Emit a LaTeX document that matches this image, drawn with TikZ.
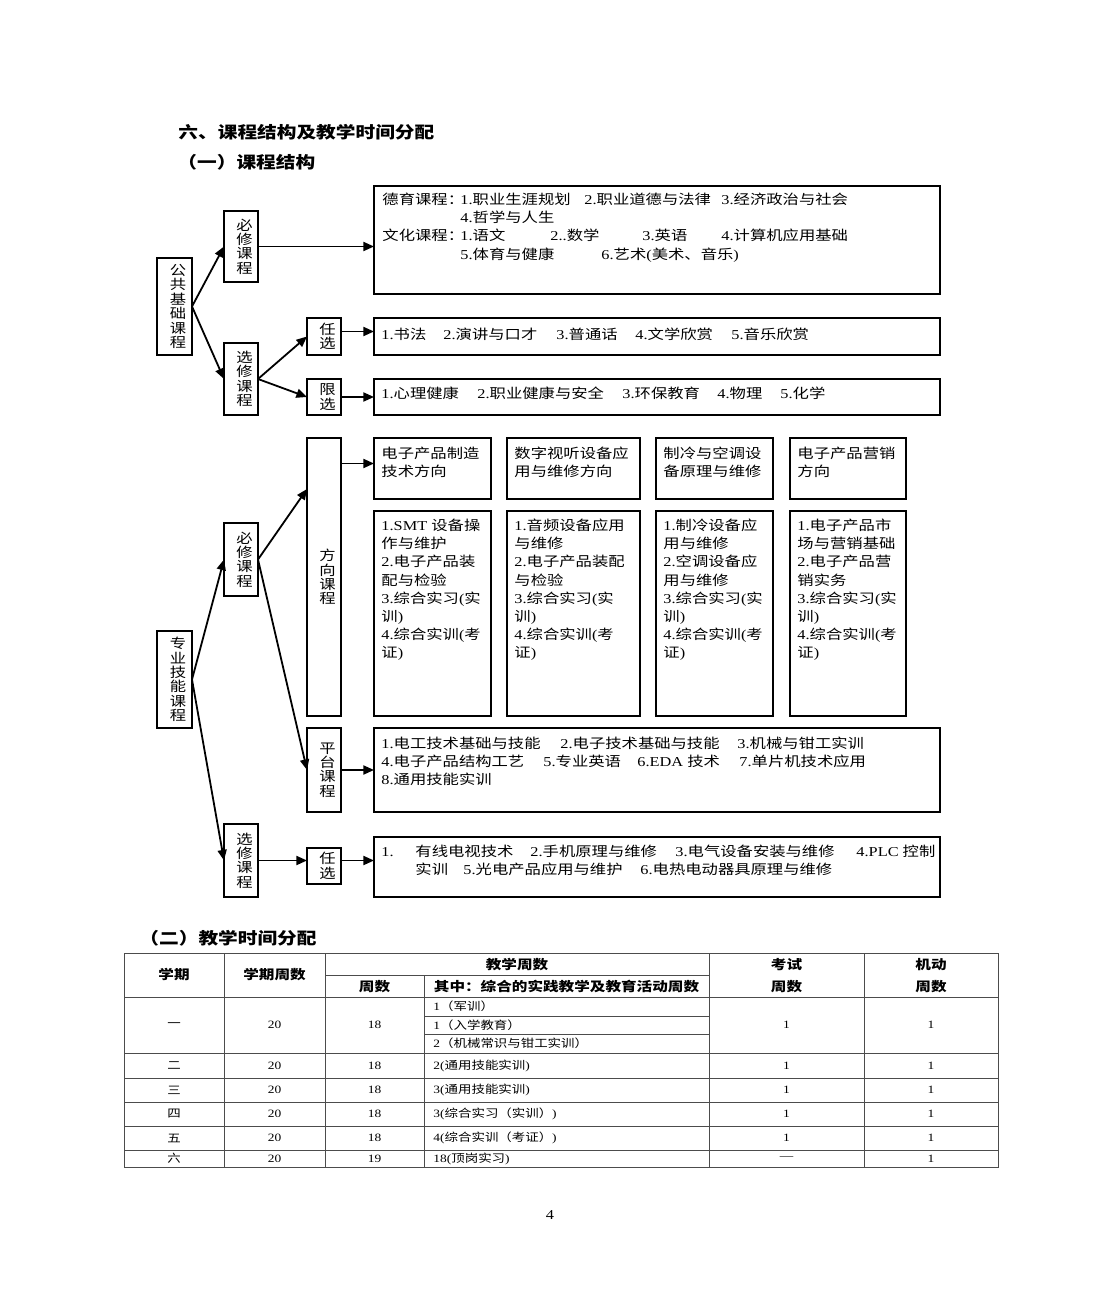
\documentclass[tikz,border=0pt]{standalone}
\usepackage{fontspec}
\setmainfont{Liberation Serif}
\newfontfamily\cjkfont{Noto Sans CJK SC}
\usetikzlibrary{arrows.meta,fit}

\XeTeXinterchartokenstate=1
\newXeTeXintercharclass\cjkclass
\newcount\cjkcode
\cjkcode="2E80
\loop\XeTeXcharclass\cjkcode=\cjkclass
\ifnum\cjkcode<"9FFF \advance\cjkcode by 1 \repeat
\cjkcode="FF00
\loop\XeTeXcharclass\cjkcode=\cjkclass
\ifnum\cjkcode<"FFEF \advance\cjkcode by 1 \repeat
\XeTeXinterchartoks 0 \cjkclass = {\cjkfont}
\XeTeXinterchartoks 4095 \cjkclass = {\cjkfont}
\XeTeXinterchartoks \cjkclass 0 = {\rmfamily}
\XeTeXinterchartoks \cjkclass 4095 = {\rmfamily}

\begin{document}
\begin{tikzpicture}[x=0.5pt, y=-0.5pt,
    frame/.style={draw, line width=0.9pt, inner sep=0pt, outer sep=0pt},
    link/.style={-{Triangle[length=5.3pt,width=4.5pt]}, line width=0.9pt},
    txt/.style={font=\fontsize{6.8pt}{9.1pt}\selectfont, inner sep=0pt, xscale=1.2, anchor=base west},
    vtext/.style={font=\fontsize{6.8pt}{7.2pt}\selectfont, inner sep=0pt, xscale=1.2, align=center, xshift=1.5pt},
    heading/.style={font=\fontsize{8.2pt}{10pt}\selectfont\bfseries, inner sep=0pt, xscale=1.2, anchor=base west},
    rule/.style={line width=0.5pt, draw=black!70},
    th/.style={font=\fontsize{6.5pt}{11pt}\selectfont\bfseries, inner sep=0pt, xscale=1.2, align=center},
    td/.style={font=\fontsize{5.6pt}{7pt}\selectfont, inner sep=0pt, xscale=1.2}
]
\fill[white, use as bounding box] (0,0) rectangle (1100,1300);

\node[heading] (title) at (178,139) {六、课程结构及教学时间分配};
\node[heading] (part1) at (177,169) {（一）课程结构};
\node[heading] (part2) at (139,944) {（二）教学时间分配};

% public foundation courses
\node[frame, fit={(157,258) (192,355)}] (gg) {};
\node[frame, fit={(224,211) (258,282)}] (bx1) {};
\node[frame, fit={(224,343) (258,415)}] (xx1) {};
\node[frame, fit={(307,318) (341,355)}] (rx1) {};
\node[frame, fit={(307,379) (341,415)}] (lx) {};
\node[frame, fit={(374,186) (940,294)}] (deyu) {};
\node[frame, fit={(374,318) (940,355)}] (shufa) {};
\node[frame, fit={(374,379) (940,415)}] (xinli) {};

\node[vtext] (ggt) at (gg) {公\\共\\基\\础\\课\\程};
\node[vtext] (bx1t) at (bx1) {必\\修\\课\\程};
\node[vtext] (xx1t) at (xx1) {选\\修\\课\\程};
\node[vtext] (rx1t) at (rx1) {任\\选};
\node[vtext] (lxt) at (lx) {限\\选};

\foreach \xx/\yy/\entry [count=\i] in {382/205/德育课程：, 460/205/1.职业生涯规划,
    584/205/2.职业道德与法律, 721/205/3.经济政治与社会, 460/223/4.哲学与人生,
    382/241/文化课程：, 460/241/1.语文, 550/241/2..数学, 642/241/3.英语,
    721/241/4.计算机应用基础, 460/259/5.体育与健康, 601/259/6.艺术(美术、音乐)}
  \node[txt] (dy\i) at (\xx,\yy) {\entry};
\foreach \xx/\entry [count=\i] in {381/1.书法, 443/2.演讲与口才, 556/3.普通话,
    635/4.文学欣赏, 731/5.音乐欣赏}
  \node[txt] (sf\i) at (\xx,339) {\entry};
\foreach \xx/\entry [count=\i] in {381/1.心理健康, 477/2.职业健康与安全,
    622/3.环保教育, 717/4.物理, 780/5.化学}
  \node[txt] (xl\i) at (\xx,398) {\entry};

\draw[link] (gg.east) -- (bx1.west);
\draw[link] (gg.east) -- (xx1.west);
\draw[link] (bx1.east) -- (bx1.east -| deyu.west);
\draw[link] (xx1.east) -- (rx1.west);
\draw[link] (xx1.east) -- (lx.west);
\coordinate (rx1out) at ([yshift=2.5pt]rx1.east);
\draw[link] (rx1out) -- (rx1out -| shufa.west);
\draw[link] (lx.east) -- (xinli.west);

% professional skill courses
\node[frame, fit={(157,631) (192,728)}] (zy) {};
\node[frame, fit={(224,523) (258,596)}] (bx2) {};
\node[frame, fit={(307,438) (341,716)}] (fx) {};
\node[frame, fit={(307,728) (341,812)}] (pt) {};
\node[frame, fit={(374,728) (940,812)}] (ptc) {};
\node[frame, fit={(224,824) (258,897)}] (xx2) {};
\node[frame, fit={(307,848) (341,884)}] (rx2) {};
\node[frame, fit={(374,837) (940,897)}] (yx) {};
\foreach \n/\xl/\xr in {1/374/491, 2/507/640, 3/656/773, 4/790/906}{
  \node[frame, fit={(\xl,438) (\xr,499)}] (d\n) {};
  \node[frame, fit={(\xl,511) (\xr,716)}] (e\n) {};
}

\node[vtext] (zyt) at (zy) {专\\业\\技\\能\\课\\程};
\node[vtext] (bx2t) at (bx2) {必\\修\\课\\程};
\node[vtext] (fxt) at (fx) {方\\向\\课\\程};
\node[vtext] (ptt) at (pt) {平\\台\\课\\程};
\node[vtext] (xx2t) at (xx2) {选\\修\\课\\程};
\node[vtext] (rx2t) at (rx2) {任\\选};

\foreach \n/\xx/\linea/\lineb in {1/381/电子产品制造/技术方向, 2/514/数字视听设备应/用与维修方向,
    3/663/制冷与空调设/备原理与维修, 4/797/电子产品营销/方向}{
  \node[txt] (dl\n) at (\xx,458) {\linea};
  \node[txt] (dm\n) at (\xx,476.5) {\lineb};
}
\foreach \entry [count=\i] in {1.SMT 设备操, 作与维护, 2.电子产品装, 配与检验,
    3.综合实习(实, 训), 4.综合实训(考, 证)}
  \node[txt] (ea\i) at (381,{530.5+18.2*(\i-1)}) {\entry};
\foreach \entry [count=\i] in {1.音频设备应用, 与维修, 2.电子产品装配, 与检验,
    3.综合实习(实, 训), 4.综合实训(考, 证)}
  \node[txt] (eb\i) at (514,{530.5+18.2*(\i-1)}) {\entry};
\foreach \entry [count=\i] in {1.制冷设备应, 用与维修, 2.空调设备应, 用与维修,
    3.综合实习(实, 训), 4.综合实训(考, 证)}
  \node[txt] (ec\i) at (663,{530.5+18.2*(\i-1)}) {\entry};
\foreach \entry [count=\i] in {1.电子产品市, 场与营销基础, 2.电子产品营, 销实务,
    3.综合实习(实, 训), 4.综合实训(考, 证)}
  \node[txt] (ed\i) at (797,{530.5+18.2*(\i-1)}) {\entry};

\foreach \xx/\yy/\entry [count=\i] in {381/748/1.电工技术基础与技能, 560/748/2.电子技术基础与技能,
    737/748/3.机械与钳工实训, 381/766/4.电子产品结构工艺, 543/766/5.专业英语,
    637/766/6.EDA 技术, 739/766/7.单片机技术应用, 381/784/8.通用技能实训}
  \node[txt] (pc\i) at (\xx,\yy) {\entry};
\foreach \xx/\yy/\entry [count=\i] in {381/856/1., 415/856/有线电视技术, 530/856/2.手机原理与维修,
    675/856/3.电气设备安装与维修, 856/856/4.PLC 控制, 415/874/实训,
    463/874/5.光电产品应用与维护, 640/874/6.电热电动器具原理与维修}
  \node[txt] (yc\i) at (\xx,\yy) {\entry};

\draw[link] (zy.east) -- (bx2.west);
\draw[link] (zy.east) -- (xx2.west);
\draw[link] (bx2.east) -- ([yshift=44pt]fx.west);
\draw[link] (bx2.east) -- (pt.west);
\coordinate (d1in) at ([yshift=2.5pt]d1.west);
\draw[link] (fx.east |- d1in) -- (d1in);
\draw[link] (pt.east) -- (ptc.west);
\draw[link] (xx2.east) -- (xx2.east -| rx2.west);
\draw[link] (xx2.east -| rx2.east) -- (xx2.east -| yx.west);

% teaching time table
\draw[rule] (124,953) rectangle (998,1167);
\foreach \yy in {997,1053,1078,1102,1126,1150}
  \draw[rule] (124,\yy) -- (998,\yy);
\draw[rule] (325,975) -- (709,975);
\foreach \yy in {1016,1034}
  \draw[rule] (424,\yy) -- (709,\yy);
\foreach \xx in {224,325,709,864}
  \draw[rule] (\xx,953) -- (\xx,1167);
\draw[rule] (424,975) -- (424,1167);

\node[th] (hterm) at (174,975) {学期};
\node[th] (hweeks) at (274.5,975) {学期周数};
\node[th] (hteach) at (517,964.5) {教学周数};
\node[th] (hnum) at (374.5,986.5) {周数};
\node[th] (hprac) at (566.5,986.5) {其中：综合的实践教学及教育活动周数};
\node[th] (hexam) at (786.5,975.5) {考试\\周数};
\node[th] (hflex) at (931,975.5) {机动\\周数};

\node[td] (term1) at (174,1025) {一};
\node[td] (wk1) at (274.5,1025) {20};
\node[td] (tw1) at (374.5,1025) {18};
\node[td, anchor=west] (pr1a) at (433,1006.5) {1（军训）};
\node[td, anchor=west] (pr1b) at (433,1025) {1（入学教育）};
\node[td, anchor=west] (pr1c) at (433,1043.5) {2（机械常识与钳工实训）};
\node[td] (ex1) at (786.5,1025) {1};
\node[td] (fl1) at (931,1025) {1};
\foreach \rowy/\term/\weeks/\teach/\prac/\exam [count=\i from 2] in {
    1065.5/二/20/18/2(通用技能实训)/1, 1090/三/20/18/3(通用技能实训)/1,
    1114/四/20/18/3(综合实习（实训）)/1, 1138/五/20/18/4(综合实训（考证）)/1,
    1158.5/六/20/19/18(顶岗实习)/—}{
  \node[td] (term\i) at (174,\rowy) {\term};
  \node[td] (wk\i) at (274.5,\rowy) {\weeks};
  \node[td] (tw\i) at (374.5,\rowy) {\teach};
  \node[td, anchor=west] (pr\i) at (433,\rowy) {\prac};
  \node[td] (ex\i) at (786.5,\rowy) {\exam};
  \node[td] (fl\i) at (931,\rowy) {1};
}

\node[td, font=\fontsize{6.8pt}{8pt}\selectfont] (page) at (550,1215) {4};
\end{tikzpicture}
\end{document}
